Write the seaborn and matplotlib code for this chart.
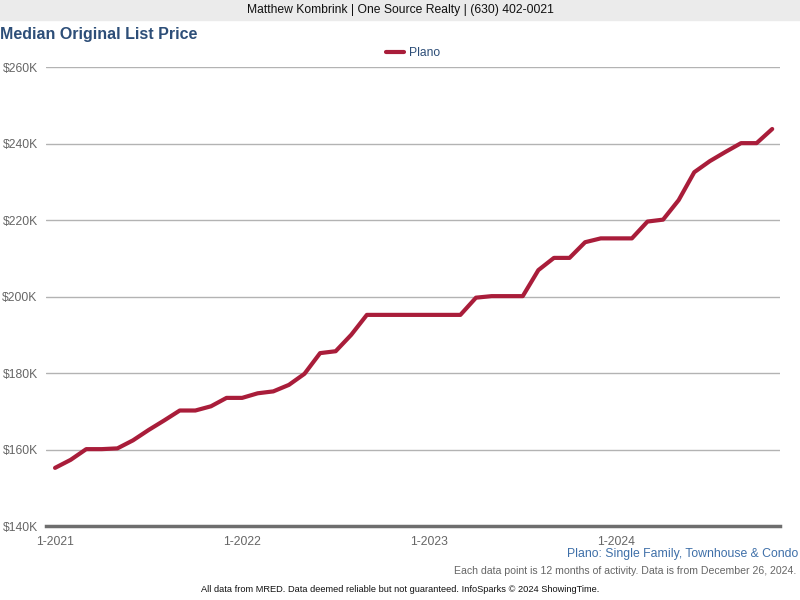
import pandas as pd
import matplotlib.pyplot as plt
import seaborn as sns
from matplotlib.patches import Rectangle

# Monthly values, Jan 2021 - Nov 2024 (in $K)
months = list(range(47))
prices = [155.2, 157.3, 160.1, 160.1, 160.3, 162.4, 165.1, 167.6, 170.2, 170.2,
          171.3, 173.5, 173.5, 174.7, 175.2, 176.9, 179.8, 185.2, 185.7, 190.0,
          195.2, 195.2, 195.2, 195.2, 195.2, 195.2, 195.2, 199.7, 200.1, 200.1,
          200.1, 206.9, 210.1, 210.1, 214.2, 215.2, 215.2, 215.2, 219.6, 220.1,
          225.2, 232.5, 235.4, 237.8, 240.1, 240.1, 243.8]
tick_pos = [0, 12, 24, 36]
tick_labels = ["1-2021", "1-2022", "1-2023", "1-2024"]
y_ticks = [140, 160, 180, 200, 220, 240, 260]

df = pd.DataFrame({"month": months, "price": prices, "area": "Plano"})

sns.set_style("white")
plt.rcParams["font.family"] = ["Liberation Sans", "DejaVu Sans"]

line_color = "#A91D3A"
title_color = "#2D4E78"

fig = plt.figure(figsize=(8, 6), dpi=100)
ax = fig.add_axes([0.0575, 0.1233, 0.9175, 0.765])

sns.lineplot(data=df, x="month", y="price", hue="area", palette=[line_color],
             linewidth=3, ax=ax, solid_capstyle="round", solid_joinstyle="round")

ax.set_xlim(-0.58, 46.5)
ax.set_ylim(140, 260)
ax.set_yticks(y_ticks)
ax.set_yticklabels([f"${v}K" for v in y_ticks])
ax.set_xticks(tick_pos)
ax.set_xticklabels(tick_labels)
ax.yaxis.grid(True, color="#B3B3B3", linewidth=1)
ax.set_xlabel("")
ax.set_ylabel("")
for s in ["top", "right", "left"]:
    ax.spines[s].set_visible(False)
ax.spines["bottom"].set_color("#6E6E6E")
ax.spines["bottom"].set_linewidth(2.5)
ax.tick_params(axis="y", length=0, labelsize=8.7, labelcolor="#666666", pad=6)
ax.tick_params(axis="x", length=5, width=2, color="#6E6E6E", labelsize=8.7,
               labelcolor="#666666", pad=2, direction="out")

leg = ax.legend(loc="center", bbox_to_anchor=(0.5, 1.03), frameon=False,
                fontsize=8.7, handlelength=1.5, handletextpad=0.4)
for t in leg.get_texts():
    t.set_color(title_color)

# header band
fig.patches.append(Rectangle((0, 0.967), 1, 0.033, transform=fig.transFigure,
                             color="#EBEBEB", zorder=0))
fig.text(0.5, 0.983, "Matthew Kombrink | One Source Realty | (630) 402-0021",
         ha="center", va="center", fontsize=8.7, color="#111111")
fig.text(0.0, 0.943, "Median Original List Price", ha="left", va="center",
         fontsize=11.5, fontweight="bold", color=title_color)

fig.text(0.998, 0.076, "Plano: Single Family, Townhouse & Condo", ha="right",
         va="center", fontsize=8.8, color="#3E6FA8")
fig.text(0.995, 0.048, "Each data point is 12 months of activity. Data is from December 26, 2024.",
         ha="right", va="center", fontsize=7.6, color="#666666")
fig.text(0.5, 0.018, "All data from MRED. Data deemed reliable but not guaranteed. InfoSparks © 2024 ShowingTime.",
         ha="center", va="center", fontsize=6.7, color="#111111")

fig.savefig("out.png", dpi=100)
